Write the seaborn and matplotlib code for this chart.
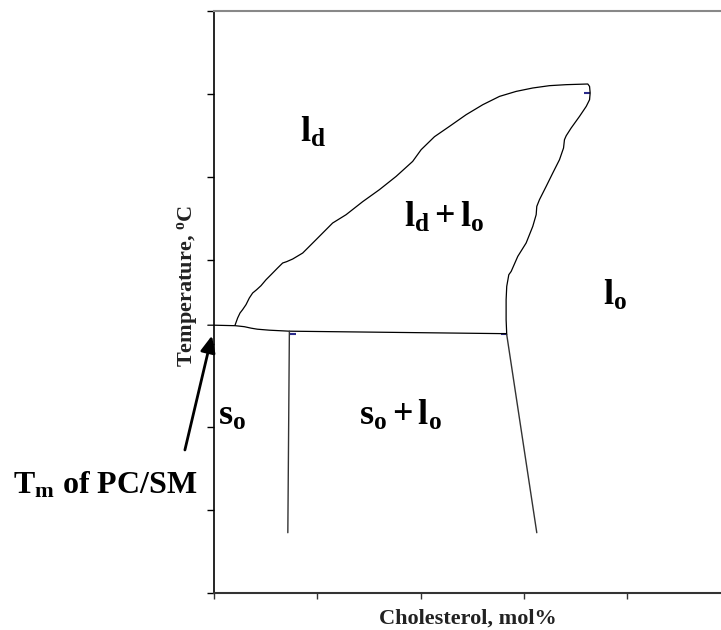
import numpy as np
import pandas as pd
import matplotlib
matplotlib.use("Agg")
import matplotlib.pyplot as plt
import seaborn as sns

# phase boundaries, x = cholesterol mol%, y = temperature (arbitrary units)
liq_x = [2.03, 2.29, 2.52, 2.77, 3.10, 3.42, 3.74, 4.13, 4.55, 5.04, 5.52, 6.16, 6.65, 7.03,
         7.62, 8.59, 9.88, 11.49, 12.79, 14.40, 16.02, 17.64, 19.24, 20.06, 21.35, 22.80,
         24.42, 26.03, 27.65, 29.26, 30.87, 32.49, 34.11, 36.20, 36.37, 36.43, 36.37, 36.05,
         35.40, 34.59, 34.11, 33.94, 33.85, 33.46, 32.81, 32.17, 31.52, 31.26, 31.20, 30.87,
         30.23, 29.42, 28.78, 28.55, 28.35, 28.29, 28.29, 28.35]
liq_y = [32.19, 33.08, 33.68, 34.08, 34.68, 35.48, 36.08, 36.48, 36.96, 37.68, 38.28, 39.09,
         39.69, 39.85, 40.17, 40.89, 42.49, 44.50, 45.50, 47.07, 48.51, 50.11, 51.91, 53.32,
         54.88, 56.12, 57.53, 58.73, 59.73, 60.33, 60.74, 61.02, 61.14, 61.22, 60.93, 60.14,
         59.33, 58.53, 57.33, 55.93, 55.00, 54.52, 53.52, 52.12, 50.52, 48.91, 47.31, 46.50,
         45.50, 44.09, 42.10, 40.49, 38.68, 38.28, 36.88, 35.28, 32.87, 31.07]

sol_x = [-0.6, 0.0, 2.06, 2.94, 3.61, 4.19, 5.36, 7.30, 28.32]
sol_y = [32.21, 32.21, 32.15, 32.03, 31.85, 31.73, 31.61, 31.49, 31.19]

left_x = [7.30, 7.15]
left_y = [31.49, 7.25]
right_x = [28.35, 31.26]
right_y = [31.07, 7.25]

mark_x = [7.68, 28.13, 36.17]
mark_y = [31.19, 31.19, 60.18]

sns.set_style("white")
plt.rcParams["font.family"] = ["Liberation Serif", "DejaVu Serif"]
plt.rcParams["mathtext.fontset"] = "custom"
plt.rcParams["mathtext.rm"] = "Liberation Serif"
plt.rcParams["mathtext.bf"] = "Liberation Serif:bold"
plt.rcParams["mathtext.it"] = "Liberation Serif:italic"
plt.rcParams["text.color"] = "black"

fig = plt.figure(figsize=(7.21, 6.3), dpi=100)
ax = fig.add_axes([214 / 721, 37 / 630, 507 / 721, 582 / 630])

sns.lineplot(x=liq_x, y=liq_y, sort=False, estimator=None, color="black", lw=0.9, ax=ax)
sns.lineplot(x=sol_x, y=sol_y, sort=False, estimator=None, color="black", lw=0.9, ax=ax)
sns.lineplot(x=left_x, y=left_y, sort=False, estimator=None, color="#333333", lw=1.0, ax=ax)
sns.lineplot(x=right_x, y=right_y, sort=False, estimator=None, color="#333333", lw=1.0, ax=ax)
for line in ax.lines:
    line.set_clip_on(False)
sns.scatterplot(x=mark_x, y=mark_y, marker="_", s=25, color="#2a2a8a", linewidth=1.5, ax=ax)

ax.set_xlim(0, 49.1)
ax.set_ylim(0, 70)
ax.set_xticks([0, 10, 20, 30, 40])
ax.set_yticks(range(0, 71, 10))
ax.set_xticklabels([])
ax.set_yticklabels([])
ax.tick_params(axis="y", direction="out", length=5, width=1, color="black", left=True)
ax.tick_params(axis="x", direction="out", length=4, width=1, color="#333333", bottom=True)

ax.spines["right"].set_visible(False)
ax.spines["left"].set_color("black")
ax.spines["left"].set_linewidth(1.2)
ax.spines["bottom"].set_color("#333333")
ax.spines["bottom"].set_linewidth(1.5)
ax.spines["top"].set_color("#888888")
ax.spines["top"].set_linewidth(1.5)

# region labels
fs = 26
ax.text(8.36, 54.28, r"$\mathbf{l_d}$", fontsize=fs, ha="left", va="baseline", color="black")
ax.text(18.44, 44.06, r"$\mathbf{l_d + l_o}$", fontsize=fs, ha="left", va="baseline", color="black")
ax.text(37.63, 34.68, r"$\mathbf{l_o}$", fontsize=fs, ha="left", va="baseline", color="black")
ax.text(0.41, 20.24, r"$\mathbf{s_o}$", fontsize=fs, ha="left", va="baseline", color="black")
ax.text(14.08, 20.24, r"$\mathbf{s_o + l_o}$", fontsize=fs, ha="left", va="baseline", color="black")

ax.annotate("", xy=(-0.14, 31.28), xytext=(-2.88, 16.88), annotation_clip=False,
            arrowprops=dict(arrowstyle="-|>,head_length=1.0,head_width=0.45", color="black", lw=2))

fig.text(13 / 721, 1 - 493 / 630, r"T$_\mathbf{m}$ of PC/SM", fontsize=23, fontweight="bold",
         ha="left", va="baseline", color="black")
fig.text(188 / 721, 1 - 286 / 630, r"Temperature, $^\mathbf{o}$C", fontsize=16, fontweight="bold",
         rotation=90, ha="center", va="center", color="#222222")
fig.text(468 / 721, 1 - 619 / 630, "Cholesterol, mol%", fontsize=16, fontweight="bold",
         ha="center", va="center", color="#222222")

fig.savefig("out.png", dpi=100)
